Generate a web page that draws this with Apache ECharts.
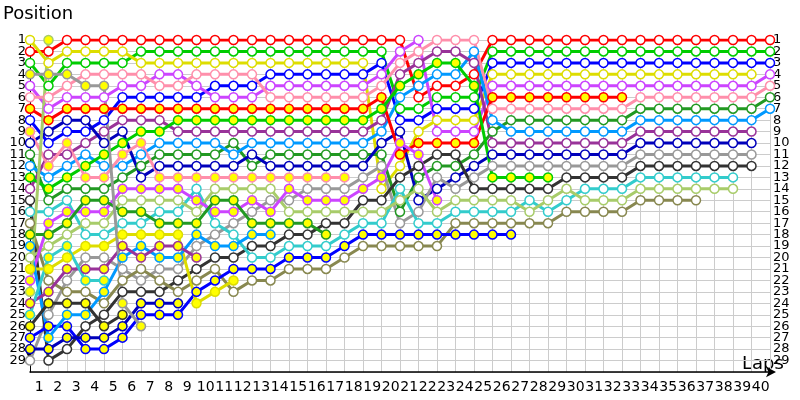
<!DOCTYPE html>
<html>
<head>
<meta charset="utf-8">
<script src="https://cdn.jsdelivr.net/npm/echarts/dist/echarts.min.js"></script>
<style>
  html, body { margin: 0; padding: 0; background: #fff; }
  #chart { width: 800px; height: 400px; }
</style>
</head>
<body>
<div id="chart"></div>
<script>
// lap labels under the x axis, position labels at both sides
var lapLabels = [];
for (var k = 1; k <= 40; k++) lapLabels.push(String(k));
var posLabels = [];
for (var p = 1; p <= 29; p++) posLabels.push(String(p));
posLabels.push('');

// position per lap (index 0 = start grid, index 40 = lap 40), null = out
// hollow markers
var redA    = [2,2,1,1,1,1,1,1,1,1, 1,1,1,1,1,1,1,1,1,1, 1,6,5,5,4,1,1,1,1,1, 1,1,1,1,1,1,1,1,1,1, 1];
var greenA  = [3,5,3,3,3,3,2,2,2,2, 2,2,2,2,2,2,2,2,2,2, 7,7,6,6,6,2,2,2,2,2, 2,2,2,2,2,2,2,2,2,2, 2];
var blueA   = [8,10,9,9,8,6,6,6,6,6, 5,5,5,4,4,4,4,4,4,3, 8,8,7,7,7,3,3,3,3,3, 3,3,3,3,3,3,3,3,3,3, 3];
var yellowA = [1,3,2,2,2,2,3,3,3,3, 3,3,3,3,3,3,3,3,3,14, 12,9,8,8,8,4,4,4,4,4, 4,4,4,4,4,4,4,4,4,4, null];
var violetA = [5,7,6,6,6,5,5,4,4,5, 6,6,6,5,5,5,5,5,5,4, 2,1,9,9,9,5,5,5,5,5, 5,5,5,5,5,5,5,5,5,5, 4];
var pinkA   = [6,6,5,4,4,4,4,5,5,4, 4,4,4,6,6,6,6,6,6,5, 3,2,1,1,1,7,7,7,7,7, 7,7,7,6,6,6,6,6,6,6, 5];
var dkgreenA= [11,15,14,14,14,13,12,11,11,11, 11,10,12,11,11,11,11,11,11,11, 16,13,12,12,11,9,8,8,8,8, 8,8,8,7,7,7,7,7,7,7, 6];
var ltblueA = [12,13,12,11,12,12,11,10,10,10, 10,11,10,10,10,10,10,10,10,9, 6,5,4,4,2,8,9,9,9,9, 9,9,9,8,8,8,8,8,8,8, 7];
var purpleA = [14,11,11,10,9,8,8,8,9,9, 9,9,9,9,9,9,9,9,9,8, 4,3,2,2,3,10,10,10,10,10, 10,10,10,9,9,9,9,9,9,9, null];
var navyA   = [10,9,8,8,10,9,13,12,12,12, 12,12,11,12,12,12,12,12,12,10, 9,15,14,13,12,11,11,11,11,11, 11,11,11,10,10,10,10,10,10,10, null];
var grayA   = [29,25,22,20,20,21,22,21,21,19, 18,17,16,15,15,14,14,14,13,12, 17,16,13,14,13,12,12,12,12,12, 12,12,12,11,11,11,11,11,11,11, null];
var dkgrayA = [15,29,28,26,25,23,23,23,22,21, 20,20,19,19,18,18,17,17,15,15, 13,12,11,11,14,14,14,14,14,13, 13,13,13,12,12,12,12,12,12,12, null];
var cyanA   = [16,16,15,18,18,17,17,16,16,14, 17,18,20,20,19,19,19,18,17,17, 14,17,17,16,16,16,16,15,16,15, 14,14,14,13,13,13,13,13,13,null, null];
var ltgreenA= [20,19,18,17,17,15,15,15,15,16, 14,14,14,14,16,16,16,16,16,16, 15,14,16,15,15,15,15,16,15,14, 15,15,15,14,14,14,14,14,14,null, null];
var oliveA  = [17,22,23,23,24,22,21,22,23,22, 21,23,22,22,21,21,21,20,19,19, 19,19,19,17,17,17,17,17,17,16, 16,16,16,15,15,15,15];
// yellow-filled markers
var redB    = [7,8,7,7,7,7,7,7,7,7, 7,7,7,7,7,7,7,7,7,6, 11,10,10,10,10,6,6,6,6,6, 6,6,6];
var greenB  = [13,14,13,12,11,10,9,9,8,8, 8,8,8,8,8,8,8,8,8,7, 5,4,3,3,5,13,13,13,13];
var blueB   = [27,26,26,28,28,27,25,25,25,23, 22,21,21,21,20,20,20,19,18,18, 18,18,18,18,18,18,18];
var yellowB = [21,21,20,19,19,18,18,18,18,24, 23,22];
var violetB = [22,17,16,16,16,14,14,14,14,15, 16,16,15,16,14,15,15,15,14,13, 10,11,15];
var pinkB   = [9,12,10,13,13,11,10,13,13,13, 13,13,13,13,13,13,13,13];
var dkgreenB= [18,18,17,15,15,16,16,17,17,17, 15,15,17,17,17,17,18];
var ltblueB = [19,27,25,25,23,20,19,20,20,18, 19,19,18,18];
var purpleB = [24,23,21,21,21,19,20,19,19,20];
var navyB   = [28,28,27,27,27,26,24,24,24];
var grayB   = [4,4,4,5,5,24,26];
var dkgrayB = [26,24,24,24,26,25];
var cyanB   = [25,20,19,22,22];
var ltgreenB= [23,1];

var drivers = [
  [redA, '#ff0000', 0], [greenA, '#00cc00', 0], [blueA, '#0000ff', 0], [yellowA, '#dddd00', 0],
  [violetA, '#cc44ff', 0], [pinkA, '#ff8fab', 0], [dkgreenA, '#229922', 0], [ltblueA, '#0099ff', 0],
  [purpleA, '#993399', 0], [navyA, '#0000bb', 0], [grayA, '#999999', 0], [dkgrayA, '#333333', 0],
  [cyanA, '#33cccc', 0], [ltgreenA, '#a8cc6a', 0], [oliveA, '#888850', 0],
  [redB, '#ff0000', 1], [greenB, '#00cc00', 1], [blueB, '#0000ff', 1], [yellowB, '#dddd00', 1],
  [violetB, '#cc44ff', 1], [pinkB, '#ff8fab', 1], [dkgreenB, '#229922', 1], [ltblueB, '#0099ff', 1],
  [purpleB, '#993399', 1], [navyB, '#0000bb', 1], [grayB, '#999999', 1], [dkgrayB, '#333333', 1],
  [cyanB, '#33cccc', 1], [ltgreenB, '#a8cc6a', 1]
];

var font = 'DejaVu Sans';
var series = drivers.map(function (d) {
  var pts = [];
  d[0].forEach(function (p, lap) { if (p != null) pts.push([lap, p]); });
  return {
    type: 'line',
    xAxisIndex: 0,
    yAxisIndex: 0,
    data: pts,
    symbol: 'circle',
    symbolSize: 9,
    showAllSymbol: true,
    lineStyle: { color: d[1], width: 3 },
    itemStyle: { color: d[2] ? '#ffff00' : '#ffffff', borderColor: d[1], borderWidth: 1.5 },
    emphasis: { disabled: true },
    silent: true
  };
});

var myChart = echarts.init(document.getElementById('chart'));
var option = {
  animation: false,
  grid: { left: 30, right: 30, top: 40, bottom: 28 },
  xAxis: [
    {
      type: 'value', min: 0, max: 40, interval: 1,
      axisLabel: { show: false },
      axisTick: { show: false },
      axisLine: { lineStyle: { color: '#000', width: 1.5 }, symbol: ['none', 'arrow'], symbolSize: [8, 10], symbolOffset: [0, 6] },
      splitLine: { show: true, lineStyle: { color: '#cccccc', width: 1 } }
    },
    {
      type: 'category', data: lapLabels, boundaryGap: true, position: 'bottom',
      axisLine: { show: false }, axisTick: { show: false },
      axisLabel: { interval: 0, color: '#000', fontSize: 14, fontFamily: font, margin: 8 }
    }
  ],
  yAxis: [
    {
      type: 'value', inverse: true, min: 1, max: 30, interval: 1, position: 'left',
      axisLine: { show: true, lineStyle: { color: '#000', width: 1 }, symbol: ['arrow', 'none'], symbolSize: [7, 9], symbolOffset: [12, 0] },
      axisTick: { show: false },
      axisLabel: { show: false },
      splitLine: { show: true, lineStyle: { color: '#cccccc', width: 1 } }
    },
    {
      type: 'category', data: posLabels, inverse: true, boundaryGap: false, position: 'left',
      axisLine: { show: false }, axisTick: { show: false }, splitLine: { show: false },
      axisLabel: { interval: 0, color: '#000', fontSize: 13, fontFamily: font, margin: 4 }
    },
    {
      type: 'category', data: posLabels, inverse: true, boundaryGap: false, position: 'right',
      axisLine: { show: false }, axisTick: { show: false }, splitLine: { show: false },
      axisLabel: { interval: 0, color: '#000', fontSize: 13, fontFamily: font, margin: 3 }
    }
  ],
  graphic: [
    { type: 'text', left: 3, top: 5, style: { text: 'Position', font: '18px DejaVu Sans', fill: '#000' } },
    { type: 'text', left: 742, top: 355, style: { text: 'Laps', font: '18px DejaVu Sans', fill: '#000' } }
  ],
  series: series
};
myChart.setOption(option);
</script>
</body>
</html>
